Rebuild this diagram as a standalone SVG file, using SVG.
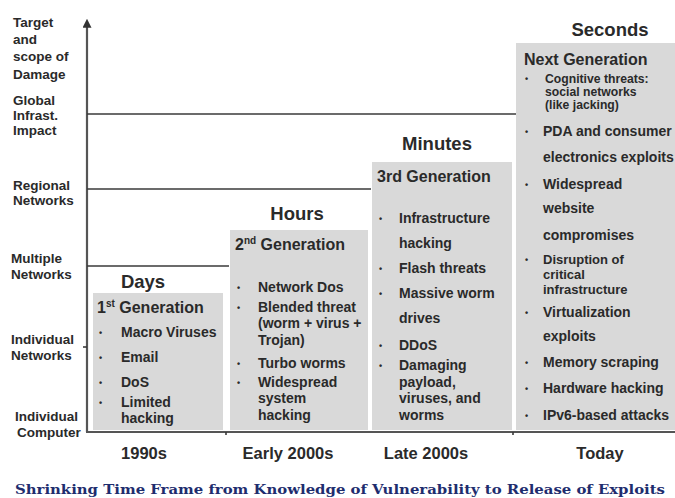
<svg xmlns="http://www.w3.org/2000/svg" width="675" height="498" viewBox="0 0 675 498">
<style>
text{font-family:"Liberation Sans",Arial,sans-serif;font-weight:bold;fill:#2a2a2a}
.ax{font-size:13.5px}
.hd{font-size:18.5px;text-anchor:middle}
.gen{font-size:16px}
.b{font-size:14px}
.b4{font-size:14px}
.b4m{font-size:13px}
.b4s{font-size:12.2px}
.dot{font-size:9px}
.yr{font-size:16.5px;text-anchor:middle}
.box{fill:#d9d9d9}
.ln{stroke:#3a3a3a;stroke-width:1.6;fill:none}
.axis{stroke:#555;stroke-width:2.2;fill:none}
.cap{font-family:"DejaVu Serif","Liberation Serif",serif;font-size:13px;fill:#1e2d6e}
</style>
<defs>
<marker id="arr" viewBox="0 0 10 10" refX="2" refY="5" markerWidth="9" markerHeight="9" orient="auto" markerUnits="userSpaceOnUse">
<path d="M0,0 L10,5 L0,10 z" fill="#333"/>
</marker>
</defs>
<rect width="675" height="498" fill="#fff"/>

<g id="y-labels">
<text class="ax" x="13" y="27">Target</text>
<text class="ax" x="13" y="44">and</text>
<text class="ax" x="13" y="61">scope of</text>
<text class="ax" x="13" y="79">Damage</text>
<text class="ax" x="13" y="105">Global</text>
<text class="ax" x="13" y="120">Infrast.</text>
<text class="ax" x="13" y="135">Impact</text>
<text class="ax" x="13" y="190">Regional</text>
<text class="ax" x="13" y="205">Networks</text>
<text class="ax" x="11" y="263">Multiple</text>
<text class="ax" x="11" y="279">Networks</text>
<text class="ax" x="11" y="344">Individual</text>
<text class="ax" x="11" y="360">Networks</text>
<text class="ax" x="15" y="421">Individual</text>
<text class="ax" x="17" y="437">Computer</text>
</g>

<g id="connectors">
<line class="axis" x1="87" y1="432" x2="87" y2="26" marker-end="url(#arr)"/>
<line class="axis" x1="86" y1="432" x2="675" y2="432"/>
<line class="ln" x1="87" y1="114" x2="516" y2="114"/>
<line class="ln" x1="87" y1="189" x2="371" y2="189"/>
<line class="ln" x1="87" y1="266" x2="229" y2="266"/>
<line class="ln" x1="83" y1="347" x2="87" y2="347"/>
<line class="ln" x1="226" y1="432" x2="226" y2="435"/>
<line class="ln" x1="513" y1="432" x2="513" y2="435"/>
</g>

<g id="gen1">
<text class="hd" x="143" y="288">Days</text>
<rect class="box" x="93" y="293" width="130" height="137"/>
<text class="gen" x="97" y="313">1<tspan font-size="10" dy="-6">st</tspan><tspan dy="6"> Generation</tspan></text>
<text class="dot" x="99" y="336">•</text><text class="b" x="121" y="337">Macro Viruses</text>
<text class="dot" x="99" y="361">•</text><text class="b" x="121" y="362">Email</text>
<text class="dot" x="99" y="386">•</text><text class="b" x="121" y="387">DoS</text>
<text class="dot" x="99" y="406">•</text><text class="b" x="121" y="407">Limited</text>
<text class="b" x="121" y="423">hacking</text>
</g>

<g id="gen2">
<text class="hd" x="297" y="220">Hours</text>
<rect class="box" x="230" y="230" width="138" height="200"/>
<text class="gen" x="235" y="250">2<tspan font-size="10" dy="-6">nd</tspan><tspan dy="6"> Generation</tspan></text>
<text class="dot" x="237" y="291">•</text><text class="b" x="258" y="292">Network Dos</text>
<text class="dot" x="237" y="311">•</text><text class="b" x="258" y="312">Blended threat</text>
<text class="b" x="258" y="328">(worm + virus +</text>
<text class="b" x="258" y="345">Trojan)</text>
<text class="dot" x="237" y="367">•</text><text class="b" x="258" y="368">Turbo worms</text>
<text class="dot" x="237" y="386">•</text><text class="b" x="258" y="387">Widespread</text>
<text class="b" x="258" y="403">system</text>
<text class="b" x="258" y="420">hacking</text>
</g>

<g id="gen3">
<text class="hd" x="437" y="150">Minutes</text>
<rect class="box" x="372" y="162" width="140" height="268"/>
<text class="gen" x="377" y="182">3rd Generation</text>
<text class="dot" x="379" y="222">•</text><text class="b" x="399" y="223">Infrastructure</text>
<text class="b" x="399" y="248">hacking</text>
<text class="dot" x="379" y="272">•</text><text class="b" x="399" y="273">Flash threats</text>
<text class="dot" x="379" y="297">•</text><text class="b" x="399" y="298">Massive worm</text>
<text class="b" x="399" y="323">drives</text>
<text class="dot" x="379" y="349">•</text><text class="b" x="399" y="350">DDoS</text>
<text class="dot" x="379" y="369">•</text><text class="b" x="399" y="370">Damaging</text>
<text class="b" x="399" y="387">payload,</text>
<text class="b" x="399" y="403">viruses, and</text>
<text class="b" x="399" y="420">worms</text>
</g>

<g id="gen4">
<text class="hd" x="610" y="36">Seconds</text>
<rect class="box" x="516" y="43" width="159" height="387"/>
<text class="gen" x="524" y="65">Next Generation</text>
<text class="dot" x="525" y="82">•</text><text class="b4s" x="545" y="83">Cognitive threats:</text>
<text class="b4s" x="545" y="96">social networks</text>
<text class="b4s" x="545" y="109">(like jacking)</text>
<text class="dot" x="525" y="135">•</text><text class="b4" x="543" y="136">PDA and consumer</text>
<text class="b4" x="543" y="162">electronics exploits</text>
<text class="dot" x="525" y="188">•</text><text class="b4" x="543" y="189">Widespread</text>
<text class="b4" x="543" y="213">website</text>
<text class="b4" x="543" y="240">compromises</text>
<text class="dot" x="525" y="263">•</text><text class="b4m" x="543" y="264">Disruption of</text>
<text class="b4m" x="543" y="279">critical</text>
<text class="b4m" x="543" y="294">infrastructure</text>
<text class="dot" x="525" y="316">•</text><text class="b4" x="543" y="317">Virtualization</text>
<text class="b4" x="543" y="341">exploits</text>
<text class="dot" x="525" y="366">•</text><text class="b4" x="543" y="367">Memory scraping</text>
<text class="dot" x="525" y="392">•</text><text class="b4" x="543" y="393">Hardware hacking</text>
<text class="dot" x="525" y="419">•</text><text class="b4" x="543" y="420">IPv6-based attacks</text>
</g>

<g id="x-labels">
<text class="yr" x="144" y="459">1990s</text>
<text class="yr" x="288" y="459">Early 2000s</text>
<text class="yr" x="426" y="459">Late 2000s</text>
<text class="yr" x="600" y="459">Today</text>
</g>

<text class="cap" x="15" y="494" textLength="650" lengthAdjust="spacingAndGlyphs">Shrinking Time Frame from Knowledge of Vulnerability to Release of Exploits</text>
</svg>
